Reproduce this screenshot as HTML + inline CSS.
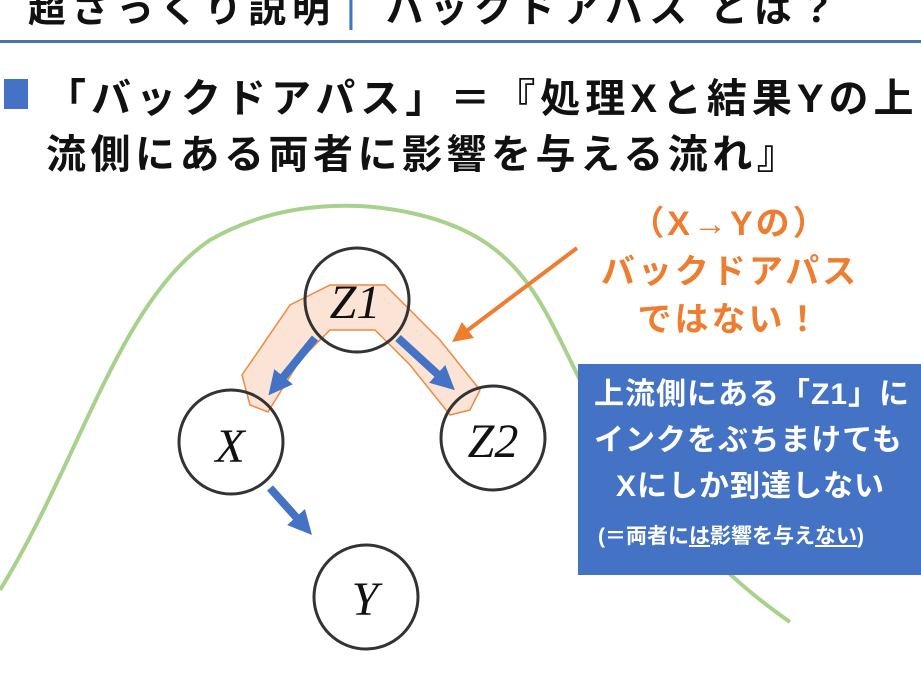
<!DOCTYPE html>
<html><head><meta charset="utf-8"><style>
body{margin:0;width:921px;height:691px;overflow:hidden;background:#fff;position:relative;font-family:"Liberation Sans","Noto Sans CJK JP",sans-serif;}
.t{position:absolute;white-space:nowrap;font-weight:bold;}
</style></head><body>
<div class="t" style="left:28px;top:-22px;font-size:38px;color:#111;letter-spacing:6px;">超ざっくり説明<span style="color:#4472C4;font-weight:normal;margin:0 24px 0 10px;">|</span>バックドアパス とは？</div>
<div style="position:absolute;left:0;top:40px;width:921px;height:3px;background:#4A72B0;"></div>
<div style="position:absolute;left:4px;top:79px;width:24px;height:30px;background:#4472C4;"></div>
<div class="t" style="left:46px;top:66px;font-size:40px;color:#111;letter-spacing:5px;">「バックドアパス」＝『処理Xと結果Yの上</div>
<div class="t" style="left:46px;top:122px;font-size:40px;color:#111;letter-spacing:4.5px;">流側にある両者に影響を与える流れ』</div>
<svg width="921" height="691" style="position:absolute;left:0;top:0">
<defs><marker id="a" markerWidth="3" markerHeight="3" refX="1.5" refY="1.5" orient="auto"><path d="M0,0L3,1.5L0,3z" fill="#4472C4"/></marker>
<marker id="o" markerWidth="5" markerHeight="5" refX="2.5" refY="2.5" orient="auto"><path d="M0,0L5,2.5L0,5z" fill="#ED7D31"/></marker></defs>
<path d="M0,590 C80,460 120,300 210,240 C280,200 360,200 420,215 C520,240 540,300 580,380 C640,480 700,560 790,622" fill="none" stroke="#A9D18E" stroke-width="4"/>
<path d="M250,405 L242,375 L290,305 L330,285 L385,285 L440,340 L480,390 L470,410 L450,415 L410,365 L375,330 L330,330 L300,360 L268,412 Z" fill="#FBE1D1" stroke="#ED7D31" stroke-width="1.5" opacity="0.9"/>
<g fill="none" stroke="#333" stroke-width="3">
<circle cx="357" cy="300" r="52"/><circle cx="231" cy="442" r="52"/><circle cx="493" cy="438" r="52"/><circle cx="366" cy="597" r="52"/></g>
<g stroke="#4472C4" stroke-width="8" marker-end="url(#a)">
<line x1="315" y1="338" x2="276" y2="386"/>
<line x1="398" y1="338" x2="446" y2="382"/>
<line x1="270" y1="488" x2="304" y2="526"/>
</g>
<line x1="577" y1="248" x2="460" y2="336" stroke="#ED7D31" stroke-width="4" marker-end="url(#o)"/>
<g font-family="Liberation Serif,serif" font-style="italic" font-size="48" fill="#111" text-anchor="middle">
<text x="355" y="318">Z1</text><text x="230" y="462">X</text><text x="493" y="457">Z2</text><text x="365" y="615">Y</text></g>
</svg>
<div class="t" style="left:575px;top:200px;width:310px;text-align:center;font-size:34px;line-height:48px;color:#ED7D31;letter-spacing:3px;">（X→Yの）<br>バックドアパス<br>ではない！</div>
<div style="position:absolute;left:578px;top:364px;width:360px;height:211px;background:#4472C4;"></div>
<div class="t" style="left:594px;top:372px;font-size:30px;line-height:46px;color:#fff;width:360px;letter-spacing:1px;">上流側にある「Z1」に<br>インクをぶちまけても<br><span style="margin-left:22px">Xにしか到達しない</span></div>
<div class="t" style="left:598px;top:520px;font-size:21px;color:#fff;">(＝両者に<u>は</u>影響を与え<u>ない</u>)</div>
</body></html>
